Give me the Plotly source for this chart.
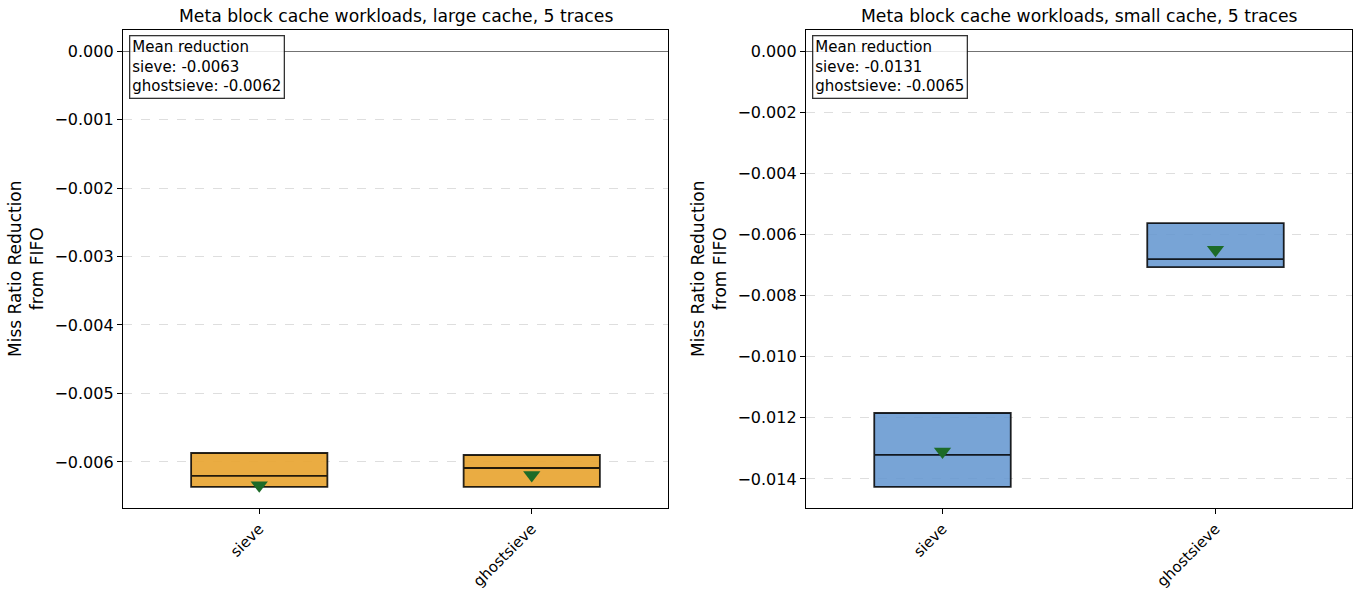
import plotly.graph_objects as go

# ---- data ----
policies = ["sieve", "ghostsieve"]

large_q1 = [-0.006365, -0.006365]
large_median = [-0.006204, -0.006088]
large_q3 = [-0.005869, -0.005898]
large_min = [-0.006365, -0.006365]
large_max = [-0.005869, -0.005898]
large_mean = [-0.00634, -0.00619]

small_q1 = [-0.014262, -0.007066]
small_median = [-0.013215, -0.006804]
small_q3 = [-0.011842, -0.005626]
small_min = [-0.014262, -0.007066]
small_max = [-0.011842, -0.005626]
small_mean = [-0.0131, -0.0065]

titles = ["Meta block cache workloads, large cache, 5 traces",
          "Meta block cache workloads, small cache, 5 traces"]
ylabel = "Miss Ratio Reduction<br>from FIFO"

FONT = "DejaVu Sans"
ORANGE = "rgba(232,165,50,0.92)"
BLUE = "rgba(100,150,208,0.87)"
GREEN = "#1d6b28"

W, H = 1356, 591


def xp(px):
    return px / W


def yp(py):
    return 1 - py / H


fig = go.Figure()

panels = [
    ("x", "y", large_q1, large_median, large_q3, large_min, large_max, large_mean, ORANGE),
    ("x2", "y2", small_q1, small_median, small_q3, small_min, small_max, small_mean, BLUE),
]

for xa, ya, q1, med, q3, lo, hi, mean, col in panels:
    for i, p in enumerate(policies):
        fig.add_trace(go.Box(
            x=[i], q1=[q1[i]], median=[med[i]], q3=[q3[i]],
            lowerfence=[lo[i]], upperfence=[hi[i]],
            width=0.5, whiskerwidth=0.5, fillcolor=col,
            line=dict(color="rgba(0,0,0,0.85)", width=1.8),
            boxpoints=False, xaxis=xa, yaxis=ya, showlegend=False,
            hoverinfo="skip",
        ))
    fig.add_trace(go.Scatter(
        x=list(range(len(policies))), y=mean, mode="markers",
        marker=dict(symbol="triangle-down", size=15, color=GREEN),
        xaxis=xa, yaxis=ya, showlegend=False, hoverinfo="skip",
    ))

axis_common = dict(
    showline=True, mirror=True, linecolor="black", linewidth=1.3,
    ticks="outside", ticklen=5, tickwidth=1.3, tickcolor="black",
    automargin=False,
)
yfont = dict(family=FONT, size=16, color="black")
xfont = dict(family=FONT, size=15, color="black")

fig.update_layout(
    template="none",
    width=W, height=H,
    margin=dict(l=0, r=0, t=0, b=0, pad=0),
    paper_bgcolor="white", plot_bgcolor="white",
    font=dict(family=FONT, color="black"),
    xaxis=dict(domain=[xp(123), xp(668)], range=[-0.5, 1.5],
               tickvals=[0, 1], ticktext=policies, tickangle=-45,
               tickfont=xfont, showgrid=False, zeroline=False, anchor="y",
               **axis_common),
    xaxis2=dict(domain=[xp(806), xp(1352)], range=[-0.5, 1.5],
                tickvals=[0, 1], ticktext=policies, tickangle=-45,
                tickfont=xfont, showgrid=False, zeroline=False, anchor="y2",
                **axis_common),
    yaxis=dict(domain=[yp(508), yp(30)], range=[-0.006672, 0.000307],
               dtick=0.001, tickformat=".3f", tickfont=yfont, showgrid=True,
               gridcolor="rgba(0,0,0,0.13)", griddash="dash", gridwidth=1,
               zeroline=True, zerolinecolor="rgba(0,0,0,0.55)", zerolinewidth=1,
               anchor="x", **axis_common),
    yaxis2=dict(domain=[yp(508), yp(30)], range=[-0.01495, 0.00069],
                dtick=0.002, tickformat=".3f", tickfont=yfont, showgrid=True,
                gridcolor="rgba(0,0,0,0.13)", griddash="dash", gridwidth=1,
                zeroline=True, zerolinecolor="rgba(0,0,0,0.55)", zerolinewidth=1,
                anchor="x2", **axis_common),
)

annotations = []
centers = [xp((123 + 668) / 2), xp((806 + 1352) / 2)]
ylab_x = [xp(26), xp(709)]
for k, (xd, yd, means) in enumerate([("x domain", "y domain", large_mean),
                                     ("x2 domain", "y2 domain", small_mean)]):
    annotations.append(dict(
        text=titles[k], xref="paper", yref="paper", x=centers[k], y=yp(16),
        xanchor="center", yanchor="middle", showarrow=False,
        font=dict(family=FONT, size=17.2, color="black")))
    annotations.append(dict(
        text=ylabel, xref="paper", yref="paper", x=ylab_x[k], y=yp(269),
        xanchor="center", yanchor="middle", textangle=-90, showarrow=False,
        font=dict(family=FONT, size=17, color="black")))
    txt = "Mean reduction<br>" + "<br>".join(
        f"{p}: {m:.4f}" for p, m in zip(policies, means))
    annotations.append(dict(
        text=txt, xref=xd, yref=yd, x=0, y=1, xanchor="left", yanchor="top",
        xshift=6, yshift=-5, align="left", showarrow=False,
        bgcolor="rgba(255,255,255,0.85)", bordercolor="rgba(0,0,0,0.8)",
        borderwidth=1.3, borderpad=2,
        font=dict(family=FONT, size=15, color="black")))
fig.update_layout(annotations=annotations)

fig.write_html("out.html",
               config={"displayModeBar": False},
               post_script="document.body.style.margin='0';"
                           "document.body.style.overflow='hidden';")
